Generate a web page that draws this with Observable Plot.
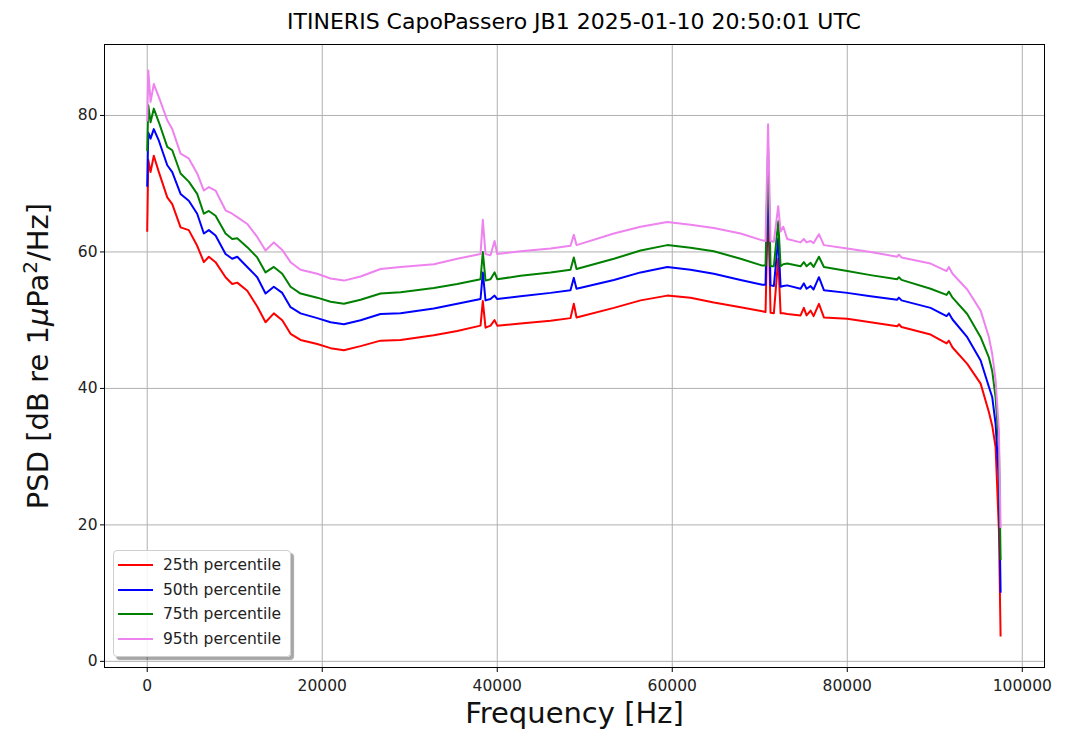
<!DOCTYPE html>
<html><head><meta charset="utf-8">
<script src="https://cdn.jsdelivr.net/npm/d3@7"></script>
<script src="https://cdn.jsdelivr.net/npm/@observablehq/plot@0.6"></script>
<style>
body{margin:0;background:#fff;font-family:"DejaVu Sans",sans-serif;}
#wrap{position:relative;width:1066px;height:730px;overflow:hidden;background:#fff;}
#title{position:absolute;left:104px;width:940px;top:9px;text-align:center;font-size:22px;line-height:26px;color:#000;white-space:nowrap;}
#chart{position:absolute;left:0;top:40px;}
#legend{position:absolute;left:113px;top:550px;width:176px;height:105px;border:1px solid #cfcfcf;border-radius:4px;background:rgba(255,255,255,0.85);box-shadow:3px 3px 1px rgba(0,0,0,0.35);}
.lrow{position:absolute;left:0;height:24px;width:176px;}
.lsw{position:absolute;left:4px;top:11px;width:35px;height:0;border-top:2.5px solid;}
.ltx{position:absolute;left:49px;top:2px;font-size:15.5px;line-height:20px;color:#222;white-space:nowrap;}
</style></head><body>
<div id="wrap"><div id="title"></div><div id="chart"></div><div id="legend"></div></div>
<script>
const titleText = "ITINERIS CapoPassero JB1 2025-01-10 20:50:01 UTC";
const xLabel = "Frequency [Hz]";
const yLabelParts = [["PSD [dB re 1",""],["μ","italic"],["Pa",""],["2","sup"],["/Hz]",""]];
const seriesNames = ["25th percentile","50th percentile","75th percentile","95th percentile"];
const seriesColors = ["red","blue","green","violet"];
const xTicks = [0,20000,40000,60000,80000,100000];
const yTicks = [0,20,40,60,80];

const freqHz = [0,120,380,750,1330,2290,2860,3810,4750,5710,
 6470,7040,7810,8950,9710,10290,11430,12570,13520,14470,
 15430,16380,17520,19430,20950,22470,24380,26660,28950,32750,
 35430,38090,38350,38660,39230,39690,40000,42660,46090,48370,
 48750,49060,53330,56380,59430,62090,64750,67810,70290,70660,
 70950,71230,71610,72110,72380,72690,73140,74660,75040,75350,
 75810,76150,76760,77330,80000,82660,85710,85900,86200,89520,
 91350,91610,92030,93710,95240,96190,96570,96950,97330,97520];

const p25 = [63.1,73.5,71.7,74.1,71.7,68.0,67.0,63.6,63.2,60.9,
 58.5,59.3,58.5,56.3,55.3,55.5,54.3,52.0,49.7,51.0,
 50.0,48.0,47.1,46.5,45.9,45.6,46.2,47.0,47.1,47.8,
 48.4,49.2,52.8,48.9,49.2,50.0,49.2,49.5,49.9,50.3,
 52.4,50.4,51.8,52.9,53.6,53.3,52.6,51.9,51.3,51.2,
 68.0,51.1,51.0,59.0,51.0,51.0,50.9,50.7,51.8,50.7,
 51.4,50.6,52.4,50.4,50.2,49.7,49.1,49.4,49.0,47.9,
 46.6,47.0,46.0,43.6,40.7,36.5,34.5,31.4,19.2,3.8];

const p50 = [69.7,77.5,76.6,78.0,76.3,72.7,71.7,68.5,67.5,65.6,
 62.7,63.2,62.4,59.7,59.0,59.3,57.8,56.3,53.9,54.9,
 54.0,51.9,51.0,50.3,49.7,49.4,50.0,50.9,51.0,51.7,
 52.4,53.1,57.0,52.9,53.1,53.6,53.1,53.5,54.0,54.4,
 56.2,54.6,55.9,57.0,57.8,57.4,56.8,55.9,55.2,55.2,
 72.0,55.1,55.0,62.0,54.9,55.0,55.1,54.6,55.4,54.6,
 55.0,54.5,56.3,54.4,54.0,53.5,53.0,53.3,52.9,51.8,
 50.6,51.0,50.1,47.5,44.1,40.2,38.7,34.8,26.5,10.2];

const p75 = [74.9,81.5,79.0,81.0,79.0,75.4,74.9,71.5,70.3,68.5,
 65.6,66.0,65.3,62.7,61.9,62.0,60.7,59.2,57.0,57.8,
 56.8,54.9,53.9,53.3,52.7,52.4,53.0,53.9,54.1,54.7,
 55.3,56.0,60.0,55.8,56.0,57.0,56.0,56.5,57.0,57.4,
 59.2,57.5,59.0,60.2,61.0,60.6,60.1,59.0,58.0,58.0,
 75.0,57.9,57.9,64.5,57.9,58.2,58.3,57.9,58.5,57.9,
 58.4,57.8,59.3,57.8,57.2,56.6,56.0,56.3,55.9,54.6,
 53.7,54.2,53.3,50.9,47.5,44.5,42.5,38.7,31.4,15.0];

const p95 = [79.3,86.6,82.0,84.6,82.7,79.3,78.0,74.4,73.7,71.5,
 69.0,69.5,69.0,66.1,65.6,65.1,64.1,62.2,60.2,61.4,
 60.3,58.5,57.4,56.8,56.1,55.8,56.4,57.5,57.8,58.2,
 59.0,59.7,64.7,59.7,59.5,61.6,59.7,60.1,60.5,60.9,
 62.5,61.0,62.7,63.7,64.4,64.0,63.5,62.7,61.7,61.6,
 78.7,61.6,61.5,66.7,63.0,63.7,61.9,61.4,61.9,61.4,
 61.6,61.3,62.6,61.0,60.5,60.0,59.3,59.6,59.2,58.3,
 57.2,57.8,56.8,54.5,51.4,47.5,45.0,41.2,33.8,19.7];

const seriesValues = [p25,p50,p75,p95];
const rows = seriesNames.flatMap((name,i)=>freqHz.map((f,j)=>({f, v: seriesValues[i][j], s: name})));

document.getElementById("title").textContent = titleText;

const chart = Plot.plot({
  width:1066, height:690,
  marginLeft:104, marginRight:22, marginTop:4, marginBottom:63,
  style:{fontFamily:'"DejaVu Sans", sans-serif', fontSize:"15.5px", color:"#000", background:"transparent", overflow:"visible"},
  x:{domain:[-4883,102539]},
  y:{domain:[-0.9,90.4]},
  color:{domain:seriesNames, range:seriesColors},
  marks:[
    Plot.gridX(xTicks,{stroke:"#b0b0b0", strokeOpacity:1, strokeWidth:1}),
    Plot.gridY(yTicks,{stroke:"#b0b0b0", strokeOpacity:1, strokeWidth:1}),
    Plot.line(rows,{x:"f", y:"v", z:"s", stroke:"s", strokeWidth:2, strokeLinejoin:"round", strokeLinecap:"square"}),
    Plot.frame({stroke:"#000", strokeWidth:1}),
    Plot.axisX(xTicks,{tickSize:5, tickPadding:7, label:null, tickFormat:d3.format("d"), fill:"#222"}),
    Plot.axisY(yTicks,{tickSize:4, tickPadding:3, label:null, fill:"#222"}),
    Plot.text([xLabel],{text:d=>d, frameAnchor:"bottom", dy:46, fontSize:29, lineAnchor:"middle", textAnchor:"middle", fill:"#111"}),
    Plot.text(["PSD"],{text:d=>d, frameAnchor:"left", dx:-66, rotate:-90, fontSize:29, lineAnchor:"middle", textAnchor:"middle", fill:"#111"})
  ]
});
document.getElementById("chart").appendChild(chart);

// rebuild y label with italic mu and superscript
const NS = "http://www.w3.org/2000/svg";
const yl = Array.from(chart.querySelectorAll("text")).find(t => t.textContent === "PSD");
if (yl) {
  yl.textContent = "";
  yl.setAttribute("text-anchor", "middle");
  const spans = [];
  for (const [txt, kind] of yLabelParts) {
    const ts = document.createElementNS(NS, "tspan");
    ts.textContent = txt;
    if (kind === "italic") ts.setAttribute("font-style", "italic");
    if (kind === "sup") { ts.setAttribute("font-size", "20"); ts.setAttribute("dy", "-11"); }
    yl.appendChild(ts);
    spans.push(ts);
  }
  spans[4].setAttribute("dy", "11");
}

// legend
const leg = document.getElementById("legend");
seriesNames.forEach((name,i)=>{
  const r = document.createElement("div");
  r.className = "lrow"; r.style.top = (2 + i*24.7) + "px";
  const sw = document.createElement("div"); sw.className = "lsw"; sw.style.borderTopColor = seriesColors[i];
  const tx = document.createElement("div"); tx.className = "ltx"; tx.textContent = name;
  r.appendChild(sw); r.appendChild(tx); leg.appendChild(r);
});
</script></body></html>
